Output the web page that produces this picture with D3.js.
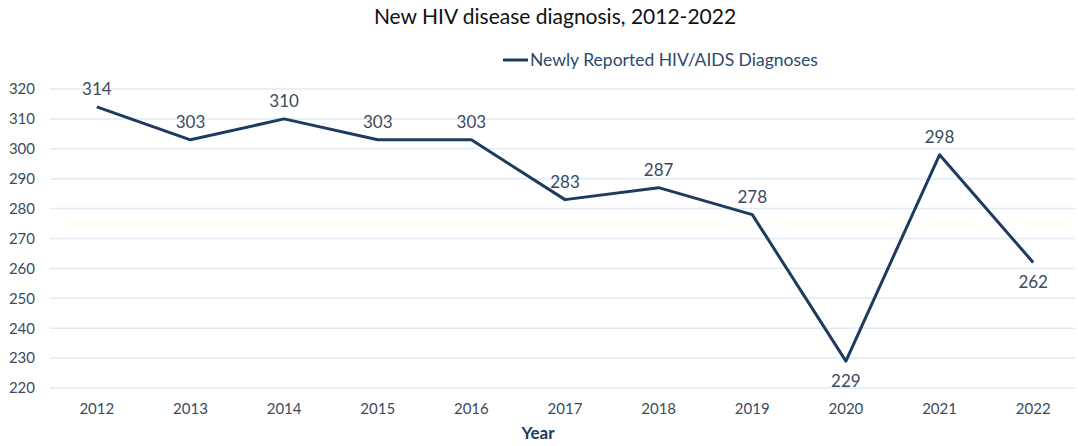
<!DOCTYPE html>
<html>
<head>
<meta charset="utf-8">
<script src="https://cdn.jsdelivr.net/npm/d3@7"></script>
<style>
  body { margin: 0; background: #fff; }
  text { font-family: Lato, "Open Sans", sans-serif; }
</style>
</head>
<body>
<div id="chart"></div>
<script>
// Data
var years = ["2012", "2013", "2014", "2015", "2016", "2017", "2018", "2019", "2020", "2021", "2022"];
var diagnoses = [314, 303, 310, 303, 303, 283, 287, 278, 229, 298, 262];
var yTicks = [220, 230, 240, 250, 260, 270, 280, 290, 300, 310, 320];
var labelBelow = ["2020", "2022"];

var W = 1078, H = 446;
var margin = {top: 89, right: 0, bottom: 58, left: 50},
    width = W - margin.left - margin.right,
    height = H - margin.top - margin.bottom;

var svg = d3.select("#chart")
  .append("svg")
    .attr("width", W)
    .attr("height", H)
  .append("g")
    .attr("transform", "translate(" + margin.left + "," + margin.top + ")");

// Scales
var x = d3.scaleBand()
  .domain(years)
  .range([0, 1030]);

var y = d3.scaleLinear()
  .domain([220, 320])
  .range([height, 0]);

// Gridlines
svg.append("g")
  .selectAll("line")
  .data(yTicks)
  .enter()
  .append("line")
    .attr("x1", 0)
    .attr("x2", 1025)
    .attr("y1", function(d) { return y(d); })
    .attr("y2", function(d) { return y(d); })
    .style("stroke", "#e1ebf5")
    .style("stroke-width", 1.5);

// Y axis
var yAxis = svg.append("g")
  .call(d3.axisLeft(y).tickValues(yTicks).tickSize(0).tickPadding(15));
yAxis.select(".domain").remove();
yAxis.selectAll("text")
  .style("font-size", "15px")
  .style("font-family", "Lato, sans-serif")
  .style("fill", "#3b4a5e");

// X axis
var xAxis = svg.append("g")
  .attr("transform", "translate(0," + height + ")")
  .call(d3.axisBottom(x).tickSize(0).tickPadding(15));
xAxis.select(".domain").remove();
xAxis.selectAll("text")
  .style("font-size", "15px")
  .style("font-family", "Lato, sans-serif")
  .style("fill", "#3b4a5e");

// Line
var pts = years.map(function(d, i) { return {year: d, value: diagnoses[i]}; });
var line = d3.line()
  .x(function(d) { return x(d.year) + x.bandwidth() / 2; })
  .y(function(d) { return y(d.value); });

svg.append("path")
  .datum(pts)
  .attr("d", line)
  .style("fill", "none")
  .style("stroke", "#1d3a5f")
  .style("stroke-width", 3)
  .style("stroke-linejoin", "round");

// Data labels
svg.append("g")
  .selectAll("text")
  .data(pts)
  .enter()
  .append("text")
    .attr("text-anchor", "middle")
    .attr("x", function(d) { return x(d.year) + x.bandwidth() / 2; })
    .attr("y", function(d) {
      return labelBelow.indexOf(d.year) >= 0 ? y(d.value) + 26 : y(d.value) - 12;
    })
    .style("font-size", "17px")
    .style("fill", "#3b4a5e")
    .text(function(d) { return d.value; });

// Title
d3.select("svg").append("text")
  .attr("x", 555)
  .attr("y", 24)
  .attr("text-anchor", "middle")
  .style("font-size", "21px")
  .style("fill", "#111")
  .text("New HIV disease diagnosis, 2012-2022");

// Legend
var legend = d3.select("svg").append("g")
  .attr("transform", "translate(503,60)");
legend.append("line")
  .attr("x1", 0).attr("x2", 25)
  .attr("y1", 0).attr("y2", 0)
  .style("stroke", "#1d3a5f")
  .style("stroke-width", 3);
legend.append("text")
  .attr("x", 27)
  .attr("y", 6)
  .style("font-size", "17.5px")
  .style("fill", "#2b4a6e")
  .text("Newly Reported HIV/AIDS Diagnoses");

// X axis label
d3.select("svg").append("text")
  .attr("x", 538)
  .attr("y", 439)
  .attr("text-anchor", "middle")
  .style("font-size", "17px")
  .style("font-weight", "bold")
  .style("fill", "#1d3a5f")
  .text("Year");
</script>
</body>
</html>
